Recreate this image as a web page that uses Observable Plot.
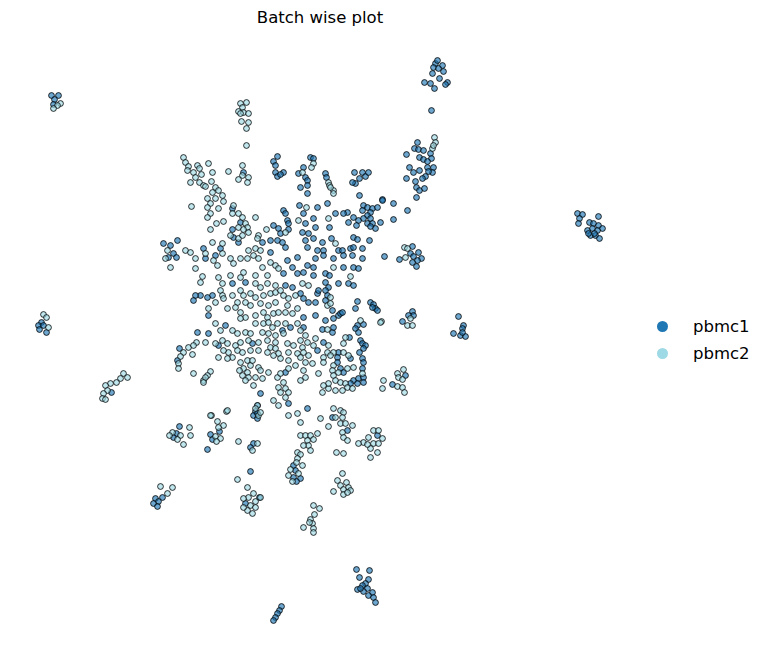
<!DOCTYPE html>
<html>
<head>
<meta charset="utf-8">
<script src="https://cdn.jsdelivr.net/npm/d3@7"></script>
<script src="https://cdn.jsdelivr.net/npm/@observablehq/plot@0.6"></script>
<style>
  body { margin: 0; background: #fff; font-family: "DejaVu Sans", sans-serif; }
  #wrap { position: relative; width: 765px; height: 658px; }
  #title { position: absolute; left: 0; top: 0; width: 640px; height: 36px; line-height: 36px; text-align: center; font-size: 16.5px; color: #000; }
  #chart { position: absolute; left: 0; top: 36px; }
  #legend { position: absolute; left: 657px; top: 313px; font-size: 16.5px; color: #000; }
  .row { display: flex; align-items: center; height: 27px; }
  .sw { width: 11px; height: 11px; border-radius: 50%; margin-right: 25px; }
</style>
</head>
<body>
<div id="wrap">
  <div id="title">Batch wise plot</div>
  <div id="chart"></div>
  <div id="legend"></div>
</div>
<script>
const batches = ["pbmc1", "pbmc2"];
const batchColors = ["#1f77b4", "#9edae5"];

// embedding coordinates (UMAP1 → right, UMAP2 → down in picture units)
const pbmc1 = [
[435,63],[437,60],[442,65],[443,71],[433,67],[438,68],[432,73],[439,78],[424,82],[430,83],[434,88],[447,82],[445,84],[431,110],
[417,142],[414,148],[418,149],[423,150],[406,154],[430,153],[419,157],[423,159],[431,158],[427,161],[409,167],[413,172],[419,170],[427,167],[433,167],[432,172],[428,171],[425,176],[422,178],[406,178],[415,181],[416,187],[419,190],[424,188],[416,197],[382,199],
[51,95],[58,95],[54,99],[53,104],
[41,322],[38,325],[43,325],[39,329],[46,332],
[111,392],
[577,213],[582,214],[579,218],[578,223],[598,216],[589,222],[593,223],[598,225],[602,228],[587,230],[592,228],[597,230],[590,235],[595,235],[599,238],[588,233],[594,233],
[412,246],[418,252],[410,253],[413,256],[399,259],[421,258],[417,260],[412,262],[416,266],[384,256],[412,311],[413,315],[408,315],[402,321],[458,316],[463,325],[462,328],[453,333],[460,335],[465,336],[462,332],[405,375],[392,384],
[179,426],[176,433],[173,437],[219,431],[210,434],[212,439],[207,449],[255,411],[253,415],[257,418],[253,443],[250,447],
[162,497],[155,498],[158,501],[153,503],[157,506],[250,471],[259,497],[245,503],
[347,430],[377,435],[293,465],[295,470],[293,477],[300,478],[296,481],
[356,569],[369,570],[359,577],[368,579],[365,583],[362,585],[357,589],[367,588],[372,592],[368,595],[373,597],[375,602],[363,591],[360,588],
[281,606],[279,610],[277,613],[275,617],[273,620],
[243,172],[277,156],[273,161],[275,165],[283,172],[275,172],[277,176],[280,174],[298,173],[232,208],[240,222],[232,229],[233,237],[262,242],[238,242],[283,210],[285,213],[287,220],[288,223],[273,225],[278,228],[280,233],[288,229],[270,240],[277,240],[282,242],[285,247],[299,205],[163,243],[170,245],[177,240],[173,253],[168,257],[176,257],[203,248],[220,248],[215,255],[205,258],[270,252],[287,260],[292,267],[297,257],[297,273],[283,273],
[310,157],[313,158],[303,167],[305,177],[307,180],[307,185],[300,187],[307,193],[325,173],[326,177],[327,203],[354,172],[362,172],[365,176],[368,172],[359,178],[355,183],[359,195],[352,182],[363,205],[367,207],[362,210],[372,208],[377,207],[382,200],[393,203],[370,212],[367,215],[363,218],[370,218],[358,220],[367,223],[372,223],[380,222],[375,228],[370,226],[347,212],[343,213],[335,213],[348,222],[353,217],[356,225],[393,219],[407,210],[317,207],[303,213],[313,218],[315,227],[305,223],[329,227],[302,232],[308,233],[313,238],[322,242],[305,240],[331,238],[307,247],[317,250],[323,250],[338,250],[342,250],[350,248],[353,247],[353,237],[357,239],[362,248],[369,240],[343,255],[352,255],[362,258],[333,258],[315,258],[323,255],[343,267],[353,267],[358,268],[313,267],[307,265],[325,273],[329,275],[303,272],[313,275],
[232,283],[245,282],[285,285],[292,287],[212,295],[207,297],[200,295],[195,295],[193,300],[208,315],[225,325],[208,333],[290,327],[282,330],[197,332],[218,345],[252,343],[179,348],[177,360],[285,372],[288,403],[260,393],[257,405],[257,413],
[325,282],[328,287],[338,283],[348,283],[353,285],[300,293],[303,298],[308,302],[315,302],[317,293],[318,290],[325,290],[327,295],[325,300],[332,310],[315,315],[303,317],[325,320],[333,318],[338,315],[340,313],[342,312],[303,327],[322,329],[332,332],[333,327],[355,308],[357,301],[370,302],[373,304],[375,308],[372,307],[377,310],[357,325],[363,324],[355,328],[358,332],[360,340],[362,343],[365,345],[363,348],[359,352],[349,337],[323,342],[317,350],[338,352],[337,357],[350,358],[337,362],[362,358],[363,362],[340,368],[362,368],[343,372],[353,380],[358,378],[363,377],[357,383],[350,383],[363,382],[307,408],[332,417]
];

const pbmc2 = [
[434,137],[435,142],[432,148],[433,145],
[240,103],[246,102],[242,107],[238,111],[243,112],[248,113],[241,121],[248,122],[246,128],[246,145],[240,113],
[60,103],[57,105],[53,108],
[43,314],[46,317],[48,327],
[123,373],[127,377],[120,378],[116,382],[110,383],[105,385],[107,390],[103,393],[102,398],[105,399],
[404,247],[407,248],[405,257],[410,318],[407,325],[412,325],[381,321],[403,369],[397,373],[398,377],[402,379],[383,380],[397,386],[402,387],[404,392],[382,388],
[189,427],[190,435],[172,432],[169,435],[180,435],[177,439],[183,444],
[211,415],[226,411],[217,421],[223,425],[218,427],[215,436],[220,438],[216,441],[238,441],
[257,405],[258,415],[257,443],[252,450],
[160,486],[172,487],[167,493],
[237,479],[247,487],[253,493],[248,497],[243,498],[255,501],[250,505],[255,507],[247,510],[252,513],[243,507],[260,497],
[300,422],[328,426],[340,423],[345,423],[352,425],[342,432],[343,437],[347,440],[300,435],[305,435],[310,435],[317,433],[307,440],[313,439],[308,445],[303,445],[310,450],[373,430],[378,430],[382,438],[368,437],[363,442],[358,443],[373,443],[378,443],[370,448],[377,452],[370,457],[367,444],[336,452],[343,453],[297,452],[300,454],[297,458],[296,462],[302,465],[290,469],[298,473],[288,475],[292,481],[342,473],[337,480],[346,482],[340,485],[348,487],[333,491],[343,489],[350,490],[343,494],[347,492],[313,505],[319,508],[314,514],[310,519],[312,523],[303,527],[313,528],[313,532],[309,522],
[183,157],[185,162],[188,166],[187,170],[193,172],[197,165],[199,168],[195,177],[201,174],[190,182],[199,182],[203,185],[205,186],[208,163],[212,172],[211,181],[228,171],[242,165],[242,175],[248,177],[247,182],[238,179],[215,187],[218,190],[212,192],[222,195],[215,198],[207,198],[223,201],[210,203],[218,208],[191,206],[207,207],[233,205],[238,213],[210,213],[207,217],[232,213],[242,217],[255,217],[245,223],[216,223],[223,221],[247,227],[238,227],[243,229],[248,232],[230,235],[238,238],[242,235],[210,229],[258,235],[257,238],[266,229],[285,232],[298,220],[167,250],[165,258],[170,267],[185,250],[190,252],[195,258],[205,253],[212,242],[222,243],[213,260],[217,265],[222,253],[230,258],[233,263],[240,258],[247,258],[248,250],[255,248],[260,250],[253,255],[258,258],[262,267],[270,262],[275,265],[278,268],[202,276],[218,277],[230,275],[243,272],[240,277],[255,275],[267,275],[195,268],
[313,163],[311,167],[302,172],[306,207],[328,182],[329,185],[333,190],[333,193],[330,187],[328,218],[335,243],[333,267],[350,276],
[200,282],[222,283],[255,283],[260,287],[267,283],[275,285],[220,290],[222,295],[223,298],[215,302],[232,295],[240,290],[243,295],[250,293],[255,297],[263,295],[270,293],[275,292],[280,290],[283,295],[288,298],[295,295],[237,302],[245,302],[250,305],[260,303],[268,305],[275,302],[287,305],[208,308],[227,308],[235,307],[240,312],[245,317],[240,318],[255,315],[263,312],[267,317],[273,313],[278,312],[285,312],[292,313],[297,308],[215,323],[220,330],[232,330],[237,333],[245,332],[250,333],[255,323],[263,323],[268,322],[272,327],[277,323],[285,323],[297,323],[262,332],[268,333],[275,335],[283,333],[267,340],[275,342],[287,343],[293,345],[196,342],[205,342],[215,343],[222,340],[227,343],[235,345],[240,342],[248,340],[258,342],[250,350],[258,350],[228,352],[223,350],[232,357],[237,350],[242,352],[227,358],[218,357],[270,347],[275,348],[278,353],[273,355],[280,358],[288,360],[267,352],[288,352],[297,353],[188,347],[193,345],[183,352],[192,354],[178,363],[180,356],[178,368],[193,373],[210,371],[207,375],[203,380],[205,377],[203,382],[240,362],[247,360],[250,365],[252,360],[243,368],[247,372],[242,375],[248,377],[245,380],[239,370],[258,367],[260,370],[255,377],[253,385],[262,378],[268,372],[277,377],[280,373],[288,368],[295,365],[283,382],[285,388],[278,387],[280,392],[288,392],[285,397],[278,405],[273,400],[255,408],[260,412],[227,410],[210,415],[288,415],[297,413],
[302,283],[308,285],[330,297],[327,305],[330,303],[327,329],[360,320],[345,337],[343,343],[380,322],[300,330],[305,335],[300,340],[307,342],[302,347],[303,352],[308,355],[300,357],[305,362],[312,363],[303,370],[305,377],[300,380],[315,338],[328,345],[313,345],[327,352],[333,352],[343,352],[323,357],[330,355],[348,355],[323,362],[333,365],[332,370],[347,368],[353,367],[318,373],[333,375],[338,372],[335,380],[340,382],[345,383],[362,373],[347,387],[352,388],[342,390],[335,390],[328,388],[322,392],[328,383],[323,385],[333,408],[340,410],[343,412],[335,417],[320,418],[342,417]
];

const cells = [
  ...pbmc1.map(([u1, u2]) => ({umap1: u1, umap2: u2, batch: "pbmc1"})),
  ...pbmc2.map(([u1, u2]) => ({umap1: u1, umap2: u2, batch: "pbmc2"}))
];

const chart = Plot.plot({
  width: 640,
  height: 622,
  margin: 0,
  x: {domain: [0, 640], axis: null},
  y: {domain: [36, 658], range: [0, 622], axis: null},
  color: {domain: batches, range: batchColors},
  marks: [
    Plot.dot(cells, {
      x: "umap1", y: "umap2", fill: "batch", r: 2.9,
      fillOpacity: 0.65, stroke: "black", strokeWidth: 0.8
    })
  ]
});
document.getElementById("chart").appendChild(chart);

const legend = document.getElementById("legend");
batches.forEach((b, i) => {
  const row = document.createElement("div");
  row.className = "row";
  const sw = document.createElement("span");
  sw.className = "sw";
  sw.style.background = batchColors[i];
  const t = document.createElement("span");
  t.textContent = b;
  row.appendChild(sw);
  row.appendChild(t);
  legend.appendChild(row);
});
</script>
</body>
</html>
